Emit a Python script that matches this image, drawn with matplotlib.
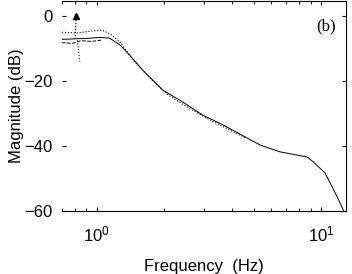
import numpy as np
import matplotlib.pyplot as plt

plt.rcParams['font.family'] = ['Liberation Sans', 'DejaVu Sans']

# main magnitude response
freq_main = [0.70, 0.80, 0.90, 1.03, 1.14, 1.27, 1.40, 1.60, 1.97, 2.42, 2.97,
             3.65, 4.67, 5.34, 6.56, 8.67, 9.22, 10.4, 11.8, 12.6]
mag_main = [-7.2, -7.0, -6.9, -6.6, -6.8, -8.9, -12.0, -16.6, -22.8, -26.5, -30.5,
            -33.5, -37.5, -39.7, -41.8, -43.4, -44.9, -48.3, -55.7, -60.0]

# dotted companion curves
freq_dot = [0.70, 0.82, 0.95, 1.05, 1.15, 1.27, 1.45, 1.75, 2.1, 2.6, 3.2, 3.9, 4.6]
mag_dot = [-5.0, -5.2, -4.6, -4.3, -5.5, -8.0, -13.5, -19.5, -24.5, -28.5, -32.0, -35.0, -37.5]

freq_dot2 = [0.70, 0.78, 0.85, 0.95, 1.05]
mag_dot2 = [-8.2, -8.4, -7.6, -7.8, -7.4]

# spike near 0.8 Hz
freq_spike = [0.80, 0.81, 0.82, 0.84]
mag_spike = [-7.0, 0.0, -7.5, -14.0]

fig = plt.figure(figsize=(3.52, 2.74), dpi=100)
ax = fig.add_axes([0.176, 0.230, 0.807, 0.766])

ax.plot(freq_main, mag_main, color='black', lw=0.7)
ax.plot(freq_dot, mag_dot, color='black', lw=0.8, ls=':')
ax.plot(freq_dot2, mag_dot2, color='black', lw=0.7, ls='--')
ax.plot(freq_spike[:2], mag_spike[:2], color='black', lw=0.8, ls=':')
ax.plot(freq_spike[2:], mag_spike[2:], color='black', lw=0.8, ls=':')
ax.plot(freq_spike[1], mag_spike[1], marker='^', color='black', ms=5)

ax.set_xscale('log')
ax.set_xlim(0.70, 12.9)
ax.set_ylim(-60, 4.6)
ax.set_yticks([0, -20, -40, -60])
ax.spines['left'].set_visible(False)
ax.tick_params(direction='in', top=True, right=True, labelsize=12, length=3)
ax.tick_params(axis='x', pad=10)
ax.tick_params(axis='y', pad=7)
ax.tick_params(which='minor', direction='in', top=True, length=2)

ax.set_xlabel('Frequency  (Hz)', fontsize=12, labelpad=10)
ax.set_ylabel('Magnitude (dB)', fontsize=12, labelpad=0)
ax.text(0.93, 0.88, '(b)', transform=ax.transAxes, ha='center', va='center',
        fontsize=12, family=['Liberation Serif', 'DejaVu Serif'])

fig.savefig('out.png', dpi=100)
